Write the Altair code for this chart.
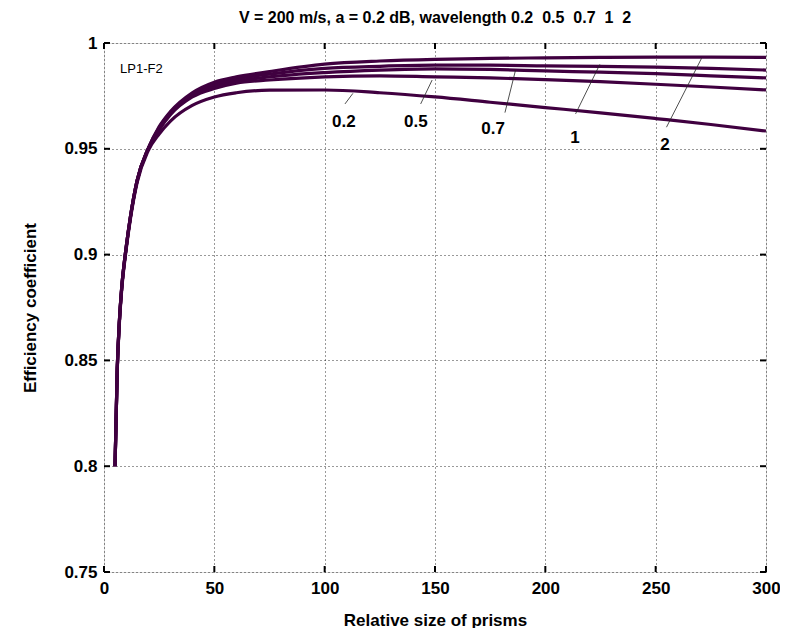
import altair as alt
import pandas as pd

# ---- data ----
x_vals = [5, 6, 7, 8, 10, 12, 15, 20, 25, 30, 40, 50, 60, 75, 100, 125, 150, 175, 200, 225, 250, 275, 300]
y_02 = [0.800, 0.845, 0.868, 0.883, 0.902, 0.917, 0.934, 0.949, 0.957, 0.963, 0.9705, 0.9745, 0.9765, 0.9777, 0.9778, 0.9765, 0.9745, 0.9720, 0.9695, 0.9670, 0.9643, 0.9615, 0.9584]
y_05 = [0.800, 0.846, 0.869, 0.884, 0.903, 0.918, 0.935, 0.950, 0.959, 0.966, 0.9745, 0.9785, 0.9810, 0.9825, 0.9840, 0.9845, 0.9840, 0.9835, 0.9827, 0.9817, 0.9805, 0.9792, 0.9778]
y_07 = [0.800, 0.846, 0.869, 0.884, 0.903, 0.918, 0.935, 0.950, 0.9595, 0.9665, 0.9750, 0.9795, 0.9820, 0.9840, 0.9860, 0.9872, 0.9878, 0.9875, 0.9868, 0.9862, 0.9855, 0.9845, 0.9835]
y_1 = [0.800, 0.846, 0.869, 0.884, 0.903, 0.918, 0.935, 0.950, 0.960, 0.9670, 0.9757, 0.9805, 0.9830, 0.9853, 0.9880, 0.9890, 0.9895, 0.9895, 0.9892, 0.9890, 0.9886, 0.9880, 0.9872]
y_2 = [0.800, 0.846, 0.869, 0.884, 0.903, 0.918, 0.935, 0.950, 0.9605, 0.9675, 0.9765, 0.9815, 0.9840, 0.9865, 0.9900, 0.9915, 0.9923, 0.9927, 0.9930, 0.9932, 0.9933, 0.9933, 0.9932]
series_names = ["0.2", "0.5", "0.7", "1", "2"]

# curve labels and their pointer lines
label_text = ["0.2", "0.5", "0.7", "1", "2"]
label_x = [108.7, 141.3, 176.3, 213.4, 254.2]
label_y = [0.9627, 0.9627, 0.9594, 0.9553, 0.9518]
ptr_x1 = [109.2, 143.5, 181.7, 213.7, 254.9]
ptr_y1 = [0.9712, 0.9712, 0.9671, 0.9665, 0.9602]
ptr_x2 = [112.8, 148.7, 186.5, 224.7, 270.8]
ptr_y2 = [0.9762, 0.9825, 0.9872, 0.9899, 0.9928]

x_ticks = [0, 50, 100, 150, 200, 250, 300]
y_ticks = [0.75, 0.8, 0.85, 0.9, 0.95, 1.0]

FONT = "Liberation Sans"
LINE_COLOR = "#400040"
W, H = 662, 529

rows = []
for name, ys in zip(series_names, [y_02, y_05, y_07, y_1, y_2]):
    for xv, yv in zip(x_vals, ys):
        rows.append({"size": xv, "eff": yv, "wl": name})
df = pd.DataFrame(rows)
lab_df = pd.DataFrame({"t": label_text, "x": label_x, "y": label_y})
ptr_df = pd.DataFrame({"x1": ptr_x1, "y1": ptr_y1, "x2": ptr_x2, "y2": ptr_y2})
xt_df = pd.DataFrame({"v": x_ticks})
yt_df = pd.DataFrame({"v": y_ticks})
note_df = pd.DataFrame({"t": ["LP1-F2"], "x": [7.25], "y": [0.9877]})

xscale = alt.Scale(domain=[0, 300], nice=False, zero=False)
yscale = alt.Scale(domain=[0.75, 1.0], nice=False, zero=False)

xaxis = alt.Axis(values=x_ticks, title="Relative size of prisms", grid=True,
                 gridDash=[1, 3], gridColor="#000000", gridWidth=1, gridOpacity=0.8,
                 domain=False, ticks=False, labelPadding=8,
                 labelFont=FONT, labelFontSize=17, labelFontWeight="bold", labelColor="black",
                 labelFlush=False,
                 titleFont=FONT, titleFontSize=17, titleFontWeight="bold", titleColor="black",
                 titleY=48, titleBaseline="middle")
yaxis = alt.Axis(values=y_ticks, format="~g", title="Efficiency coefficient", grid=True,
                 gridDash=[1, 3], gridColor="#000000", gridWidth=1, gridOpacity=0.8,
                 domain=False, ticks=False, labelPadding=7,
                 labelFont=FONT, labelFontSize=17, labelFontWeight="bold", labelColor="black",
                 labelFlush=False,
                 titleFont=FONT, titleFontSize=17, titleFontWeight="bold", titleColor="black",
                 titleX=-74, titleY=H / 2, titleAngle=-90, titleBaseline="middle")

lines = alt.Chart(df).mark_line(color=LINE_COLOR, strokeWidth=3.2, interpolate="monotone", clip=True).encode(
    x=alt.X("size:Q", scale=xscale, axis=xaxis),
    y=alt.Y("eff:Q", scale=yscale, axis=yaxis),
    detail="wl:N",
)

pointers = alt.Chart(ptr_df).mark_rule(color="#222222", strokeWidth=0.8).encode(
    x=alt.X("x1:Q", scale=xscale), y=alt.Y("y1:Q", scale=yscale),
    x2="x2:Q", y2="y2:Q",
)

labels = alt.Chart(lab_df).mark_text(font=FONT, fontSize=17, fontWeight="bold", color="black",
                                     align="center", baseline="middle").encode(
    x=alt.X("x:Q", scale=xscale), y=alt.Y("y:Q", scale=yscale), text="t:N"
)

note = alt.Chart(note_df).mark_text(font=FONT, fontSize=13, color="black",
                                    align="left", baseline="middle").encode(
    x=alt.X("x:Q", scale=xscale), y=alt.Y("y:Q", scale=yscale), text="t:N"
)

TL = 6
xt_bot = alt.Chart(xt_df).mark_rule(color="black", strokeWidth=2).encode(
    x=alt.X("v:Q", scale=xscale), y=alt.value(H), y2=alt.value(H - TL))
xt_top = alt.Chart(xt_df).mark_rule(color="black", strokeWidth=2).encode(
    x=alt.X("v:Q", scale=xscale), y=alt.value(0), y2=alt.value(TL))
yt_left = alt.Chart(yt_df).mark_rule(color="black", strokeWidth=2).encode(
    y=alt.Y("v:Q", scale=yscale), x=alt.value(0), x2=alt.value(TL))
yt_right = alt.Chart(yt_df).mark_rule(color="black", strokeWidth=2).encode(
    y=alt.Y("v:Q", scale=yscale), x=alt.value(W), x2=alt.value(W - TL))

chart = alt.layer(lines, pointers, labels, note, xt_bot, xt_top, yt_left, yt_right).properties(
    width=W, height=H,
    title=alt.TitleParams("V = 200 m/s, a = 0.2 dB, wavelength 0.2\u00a0 0.5\u00a0 0.7\u00a0 1\u00a0 2",
                          font=FONT, fontSize=16, fontWeight="bold", color="black",
                          anchor="middle", offset=8),
    autosize=alt.AutoSizeParams(type="none"),
    padding={"left": 96, "top": 35, "right": 14, "bottom": 56},
).configure_view(stroke="black", strokeWidth=2).configure(background="white")

chart.save("out.html", embed_options={"renderer": "svg", "actions": False})
